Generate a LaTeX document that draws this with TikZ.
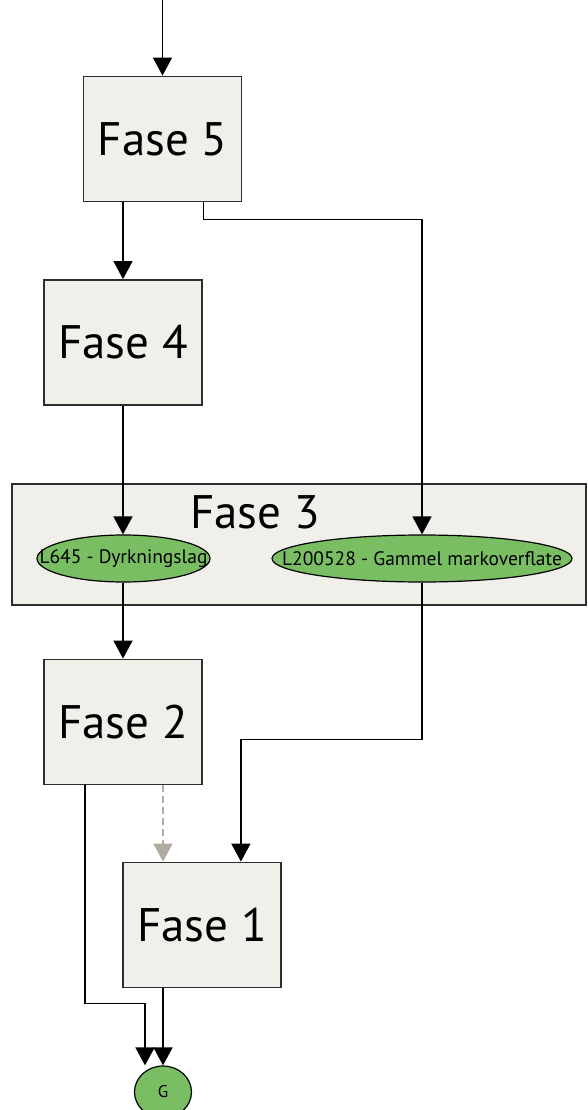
\documentclass[tikz,border=0pt]{standalone}
\usepackage{fontspec}
\setmainfont{PT Sans}
\usetikzlibrary{arrows.meta,shapes.geometric,calc}
\definecolor{boxfill}{RGB}{240,239,234}
\definecolor{boxline}{RGB}{45,45,45}
\definecolor{leaf}{RGB}{122,190,100}
\definecolor{dashgrey}{RGB}{176,173,160}
\tikzset{
  fase/.style={draw=boxline, line width=1.8pt, fill=boxfill, minimum width=158pt, minimum height=125pt, inner sep=0pt, font=\fontsize{47}{52}\selectfont},
  layer/.style={draw=black, line width=1.2pt, fill=leaf, ellipse, inner sep=0pt},
  layertext/.style={inner sep=0pt, font=\fontsize{19.5}{22}\selectfont},
  arr/.style={line width=1.6pt, -{Triangle[width=19pt,length=18pt]}},
}
\begin{document}
\begin{tikzpicture}[x=1pt,y=-1pt]
\useasboundingbox (0,0) rectangle (587,1110);
% phase 3 container
\node[draw=boxline, line width=1.8pt, fill=boxfill, minimum width=574pt, minimum height=121pt, inner sep=0pt] (f3) at (299,544.5) {};
\node[font=\fontsize{47}{52}\selectfont] (f3t) at (255,512) {Fase 3};
\node[fase] (f5) at (162.5,139) {Fase 5};
\node[fase] (f4) at (123,342.5) {Fase 4};
\node[fase] (f2) at (123,722) {Fase 2};
\node[fase] (f1) at (202,925) {Fase 1};
% layers: the ellipse is drawn at a fixed size, the text may run over its rim
\node[layer, minimum width=173pt, minimum height=47pt] (e1) at (123.5,558.5) {};
\node[layertext] (e1t) at (e1.center) {L645 - Dyrkningslag};
\node[layer, minimum width=300pt, minimum height=47pt] (e2) at (422,558.5) {};
\node[layertext] (e2t) at (e2.center) {L200528 - Gammel markoverflate};
\node[layer, minimum width=57pt, minimum height=52pt] (g) at (163,1092) {};
\node[inner sep=0pt, font=\fontsize{17}{19}\selectfont] (gt) at (g.center) {G};
\coordinate (in) at (162.5,0);
% connectors
\draw[arr] (in) -- (f5.north);
\draw[arr] (f5.south -| f4.north) -- (f4.north);
\draw[arr] ([xshift=-39pt]f5.south east) -- ++(0,17) -| (e2.north);
\draw[arr] (f4.south) -- (f4.south |- e1.north);
\draw[arr] (e1.south -| f2.north) -- (f2.north);
\draw[arr] (e2.south) |- ($(f1.north east)+(-41,-122)$) -- ([xshift=-41pt]f1.north east);
\draw[arr, dashgrey, dash pattern=on 7pt off 4pt] (f2.south -| g.north) -- (f1.north -| g.north);
\draw[arr] ([xshift=-38pt]f2.south) |- ($(g.north)+(-18,-62)$) -- ([xshift=-18pt]g.north);
\draw[arr] (f1.south -| g.north) -- (g.north);
\end{tikzpicture}
\end{document}
